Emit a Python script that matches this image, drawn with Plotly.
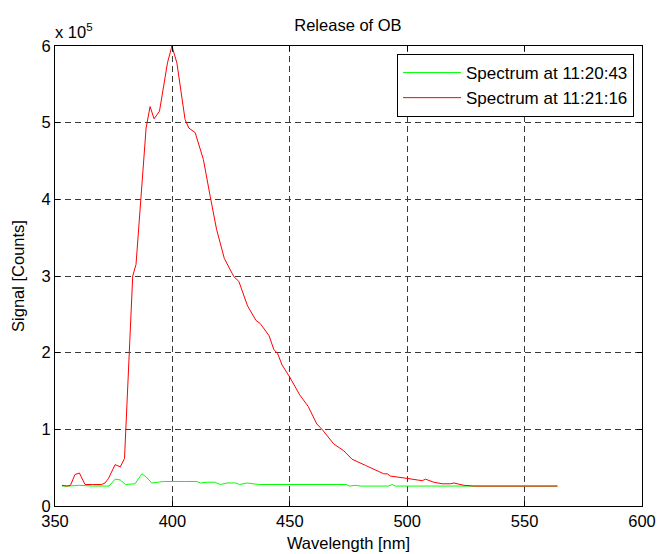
import plotly.graph_objects as go

# Wavelength [nm] and signal [counts] for each spectrum
wl_1 = [353.0, 356.0, 360.0, 366.0, 373.0, 375.6, 377.8, 380.0, 384.1, 387.0, 388.8, 391.2,
        394.0, 396.2, 405.0, 410.4, 412.0, 415.0, 418.0, 420.4, 423.2, 427.0, 428.6, 431.7,
        437.0, 450.0, 462.0, 474.0, 475.5, 478.0, 480.0, 492.0, 493.6, 495.0, 510.0, 528.0, 564.0]
sig_1 = [0.26, 0.26, 0.27, 0.26, 0.26, 0.35, 0.34, 0.28, 0.29, 0.42, 0.38, 0.30,
         0.31, 0.32, 0.32, 0.32, 0.30, 0.31, 0.31, 0.28, 0.30, 0.30, 0.28, 0.30,
         0.28, 0.28, 0.28, 0.28, 0.26, 0.27, 0.26, 0.26, 0.28, 0.26, 0.26, 0.26, 0.26]
sig_1 = [v * 1e5 for v in sig_1]

wl_2 = [353.0, 355.0, 356.6, 358.5, 360.4, 362.8, 366.0, 369.9, 371.3, 372.8, 375.6, 377.8,
        379.6, 383.1, 384.5, 388.8, 390.5, 392.2, 394.5, 397.9, 399.8, 401.9, 405.4, 407.0,
        409.7, 413.2, 416.1, 418.8, 422.1, 426.2, 428.3, 432.0, 435.6, 437.4, 441.2, 443.2,
        444.8, 446.7, 449.8, 454.2, 457.8, 461.5, 464.0, 468.7, 473.0, 476.5, 482.2, 486.0,
        487.9, 490.0, 491.5, 492.9, 496.4, 500.0, 504.2, 506.4, 507.8, 511.3, 514.9, 518.4,
        519.9, 524.1, 528.4, 564.0]
sig_2 = [0.27, 0.26, 0.27, 0.41, 0.43, 0.28, 0.28, 0.28, 0.30, 0.36, 0.54, 0.51,
         0.62, 3.00, 3.15, 4.93, 5.21, 5.05, 5.15, 5.78, 6.00, 5.78, 5.04, 4.93,
         4.87, 4.52, 4.04, 3.61, 3.23, 2.99, 2.93, 2.61, 2.42, 2.38, 2.22, 2.04,
         1.99, 1.84, 1.69, 1.45, 1.30, 1.07, 0.99, 0.81, 0.72, 0.61, 0.53, 0.47,
         0.45, 0.42, 0.42, 0.39, 0.38, 0.36, 0.34, 0.33, 0.35, 0.31, 0.29, 0.29,
         0.30, 0.27, 0.26, 0.26]
sig_2 = [v * 1e5 for v in sig_2]

names = ["Spectrum at 11:20:43", "Spectrum at 11:21:16"]
x_ticks = [350, 400, 450, 500, 550, 600]
y_ticks = [0, 1e5, 2e5, 3e5, 4e5, 5e5, 6e5]
y_ticktext = ["0", "1", "2", "3", "4", "5", "6"]

FONT = "Liberation Sans, Arial, sans-serif"
FS = 16.5

fig = go.Figure()
fig.add_trace(go.Scatter(x=wl_1, y=sig_1, mode="lines", name=names[0],
                         line=dict(color="#00ff00", width=1)))
fig.add_trace(go.Scatter(x=wl_2, y=sig_2, mode="lines", name=names[1],
                         line=dict(color="#ff0000", width=1)))

axis_common = dict(showline=True, linecolor="black", linewidth=1, mirror="ticks",
                   ticks="inside", ticklen=5, tickcolor="black", automargin=False,
                   showgrid=True, gridcolor="#3a3a3a", gridwidth=1, griddash="6px,4px",
                   zeroline=False, tickfont=dict(family=FONT, size=FS, color="black"))

fig.update_xaxes(range=[350, 600], tickvals=x_ticks, ticktext=[str(t) for t in x_ticks],
                 title=dict(text="Wavelength [nm]", font=dict(family=FONT, size=FS, color="black"),
                            standoff=8),
                 **axis_common)
fig.update_yaxes(range=[0, 6e5], tickvals=y_ticks, ticktext=y_ticktext,
                 title=dict(text="Signal [Counts]", font=dict(family=FONT, size=FS, color="black"),
                            standoff=12),
                 **axis_common)

fig.update_layout(
    width=659, height=554,
    margin=dict(l=55, r=17, t=46, b=48, autoexpand=False),
    paper_bgcolor="white", plot_bgcolor="white",
    font=dict(family=FONT, size=FS, color="black"),
    title=dict(text="Release of OB", x=0.528, xanchor="center", y=1 - 25 / 554,
               yanchor="middle", font=dict(family=FONT, size=FS, color="black")),
    legend=dict(x=0.9864, xanchor="right", y=0.9826, yanchor="top",
                bgcolor="white", bordercolor="black", borderwidth=1,
                font=dict(family=FONT, size=17, color="black"),
                itemwidth=58, tracegroupgap=0),
    showlegend=True,
)

fig.add_annotation(text="x 10<sup>5</sup>", xref="paper", yref="paper", x=0.0, y=1.0,
                   xanchor="left", yanchor="bottom", yshift=3, xshift=-2, showarrow=False,
                   font=dict(family=FONT, size=FS, color="black"))

fig.write_html("out.html")
